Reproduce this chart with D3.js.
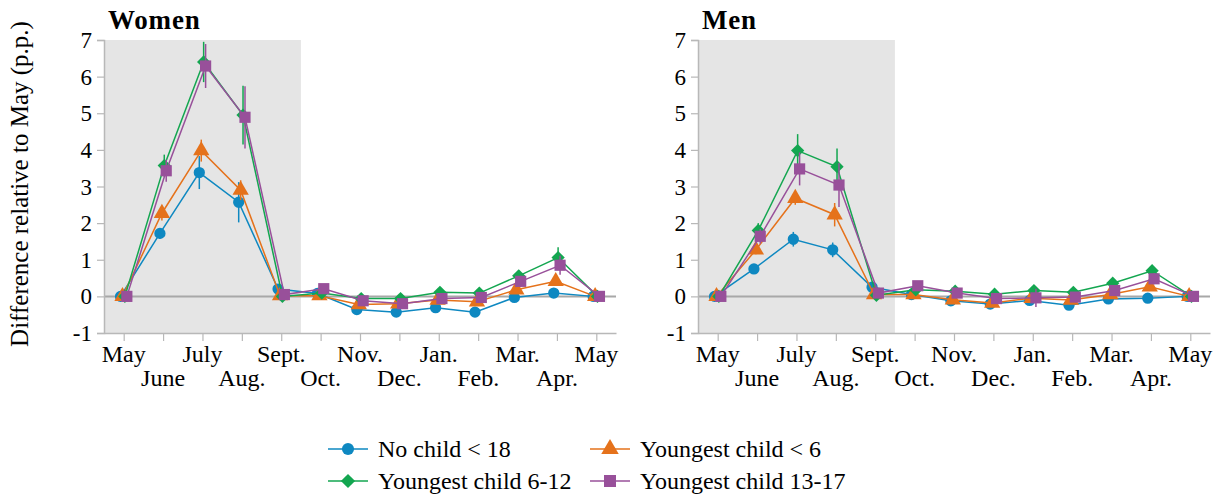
<!DOCTYPE html>
<html>
<head>
<meta charset="utf-8">
<script src="https://cdn.jsdelivr.net/npm/d3@7"></script>
</head>
<body style="margin:0">
<svg id="chart" width="1224" height="498" font-family="Liberation Serif"></svg>
<script>

// DATA

const months = ["May", "June", "July", "Aug.", "Sept.", "Oct.", "Nov.", "Dec.", "Jan.", "Feb.", "Mar.", "Apr.", "May"];
const yTicks = [-1, 0, 1, 2, 3, 4, 5, 6, 7];

const seriesNames = ["No child < 18", "Youngest child < 6", "Youngest child 6-12", "Youngest child 13-17"];

// Women
const womenNoChild = [0, 1.72, 3.38, 2.57, 0.2, 0.08, -0.36, -0.43, -0.31, -0.43, -0.03, 0.09, 0];
const womenUnder6 = [0, 2.27, 3.98, 2.9, 0.02, 0.02, -0.22, -0.2, -0.1, -0.15, 0.18, 0.41, 0];
const women6to12 = [0, 3.57, 6.4, 4.95, 0, 0.09, -0.06, -0.06, 0.11, 0.09, 0.56, 1.06, 0];
const women13to17 = [0, 3.43, 6.29, 4.89, 0.05, 0.21, -0.12, -0.2, -0.06, -0.03, 0.41, 0.85, 0];

const womenNoChildErr = [0, 0.15, 0.45, 0.55, 0.1, 0.08, 0.08, 0.08, 0.08, 0.08, 0.08, 0.08, 0];
const womenUnder6Err = [0, 0.2, 0.3, 0.27, 0.1, 0.08, 0.1, 0.1, 0.1, 0.1, 0.1, 0.1, 0];
const women6to12Err = [0, 0.3, 0.55, 0.8, 0.12, 0.1, 0.12, 0.12, 0.12, 0.12, 0.15, 0.28, 0];
const women13to17Err = [0, 0.3, 0.6, 0.85, 0.12, 0.1, 0.12, 0.12, 0.12, 0.12, 0.15, 0.26, 0];

// Men
const menNoChild = [0, 0.75, 1.56, 1.27, 0.25, 0.05, -0.12, -0.21, -0.11, -0.24, -0.07, -0.05, 0];
const menUnder6 = [0, 1.27, 2.68, 2.23, 0.05, 0.05, -0.09, -0.18, -0.05, -0.1, 0.05, 0.26, 0];
const men6to12 = [0, 1.8, 3.98, 3.54, 0.03, 0.18, 0.14, 0.06, 0.16, 0.11, 0.36, 0.7, 0];
const men13to17 = [0, 1.64, 3.48, 3.04, 0.09, 0.29, 0.09, -0.06, -0.04, -0.02, 0.16, 0.48, 0];

const menNoChildErr = [0, 0.08, 0.2, 0.2, 0.08, 0.06, 0.06, 0.06, 0.06, 0.06, 0.06, 0.06, 0];
const menUnder6Err = [0, 0.12, 0.18, 0.32, 0.1, 0.08, 0.08, 0.08, 0.08, 0.08, 0.08, 0.1, 0];
const men6to12Err = [0, 0.2, 0.45, 0.5, 0.15, 0.1, 0.12, 0.12, 0.12, 0.12, 0.12, 0.15, 0];
const men13to17Err = [0, 0.2, 0.45, 0.6, 0.12, 0.1, 0.12, 0.12, 0.25, 0.12, 0.12, 0.15, 0];


// STYLE

const colors = ["#0e88c1", "#e5721b", "#13a650", "#98509a"];
const shapes = ["circle", "triangle", "diamond", "square"];
const dodge = [-0.08, -0.03, 0.03, 0.08];

const svg = d3.select("#chart");

const y = d3.scaleLinear().domain([-1, 7]).range([333, 40]);


function markerPath(shape, big) {

    let k = big ? 1.15 : 1;

    if (shape === "circle") {
        return d3.symbol(d3.symbolCircle, 100 * k)();
    }
    if (shape === "triangle") {
        return d3.symbol(d3.symbolTriangle, 115 * k)();
    }
    if (shape === "diamond") {
        return d3.symbol(d3.symbolSquare, 88 * k)();
    }
    return d3.symbol(d3.symbolSquare, 125 * k)();

}


function addText(parent, x, y, size, content) {

    return parent.append("text")
        .attr("x", x)
        .attr("y", y)
        .attr("font-family", "Liberation Serif")
        .attr("font-size", size)
        .text(content);

}


function drawPanel(title, left, right, values, errors) {

    const x = d3.scaleLinear().domain([-0.5, 12.5]).range([left, right]);
    const g = svg.append("g");

    // Summer shading
    g.append("rect")
        .attr("x", x(-0.5))
        .attr("y", y(7))
        .attr("width", x(4.5) - x(-0.5))
        .attr("height", y(-1) - y(7))
        .attr("fill", "#e5e5e5");

    // Zero line
    g.append("line")
        .attr("x1", x(-0.5))
        .attr("x2", x(12.5))
        .attr("y1", y(0))
        .attr("y2", y(0))
        .attr("stroke", "#a8a8a8")
        .attr("stroke-width", 2);

    // Y axis (lines from d3, labels as plain text)
    const yAxis = g.append("g")
        .attr("transform", "translate(" + left + ",0)")
        .call(d3.axisLeft(y).tickValues(yTicks).tickSize(7).tickFormat(""));

    yAxis.select(".domain").attr("stroke", "#b8b8b8").attr("stroke-width", 1.5);
    yAxis.selectAll(".tick line").attr("stroke", "#b8b8b8").attr("stroke-width", 1.2);

    for (let t of yTicks) {
        addText(g, left - 12, y(t) + 8, 23, String(t)).attr("text-anchor", "end");
    }

    // X axis
    const xAxis = g.append("g")
        .attr("transform", "translate(0," + y(-1) + ")")
        .call(d3.axisBottom(x).tickValues(d3.range(months.length)).tickSize(8).tickSizeOuter(0).tickFormat(""));

    xAxis.select(".domain").attr("stroke", "#b8b8b8").attr("stroke-width", 1.5);
    xAxis.selectAll(".tick line").attr("stroke", "#b8b8b8").attr("stroke-width", 1.2);

    for (let i = 0; i < months.length; i++) {
        addText(g, x(i), i % 2 === 0 ? 362 : 386, 24, months[i]).attr("text-anchor", "middle");
    }

    // Title
    addText(g, left + 4, 29, 27, title)
        .attr("font-weight", "bold")
        .attr("letter-spacing", 0.8);

    // Series
    for (let s = 0; s < values.length; s++) {

        let points = values[s].map((v, i) => ({ i: i, v: v, e: errors[s][i] }));

        let line = d3.line()
            .x(d => x(d.i + dodge[s]))
            .y(d => y(d.v));

        let sg = g.append("g");

        sg.append("path")
            .datum(points)
            .attr("d", line)
            .attr("fill", "none")
            .attr("stroke", colors[s])
            .attr("stroke-width", 1.5);

        sg.selectAll(".err")
            .data(points.filter(d => d.e > 0))
            .enter()
            .append("line")
            .attr("x1", d => x(d.i + dodge[s]))
            .attr("x2", d => x(d.i + dodge[s]))
            .attr("y1", d => y(d.v - d.e))
            .attr("y2", d => y(d.v + d.e))
            .attr("stroke", colors[s])
            .attr("stroke-width", 1.5);

        sg.selectAll(".mark")
            .data(points)
            .enter()
            .append("path")
            .attr("d", markerPath(shapes[s], false))
            .attr("transform", d => "translate(" + x(d.i + dodge[s]) + "," + y(d.v) + ")" + (shapes[s] === "diamond" ? " rotate(45)" : ""))
            .attr("fill", colors[s]);

    }

}


drawPanel("Women", 104, 616,
    [womenNoChild, womenUnder6, women6to12, women13to17],
    [womenNoChildErr, womenUnder6Err, women6to12Err, women13to17Err]);

drawPanel("Men", 698, 1210,
    [menNoChild, menUnder6, men6to12, men13to17],
    [menNoChildErr, menUnder6Err, men6to12Err, men13to17Err]);


// Y label

addText(svg, 0, 0, 25, "Difference relative to May (p.p.)")
    .attr("transform", "translate(28,184) rotate(-90)")
    .attr("text-anchor", "middle");


// LEGEND

const legendX = [328, 590];
const legendY = [449, 481];

for (let s = 0; s < seriesNames.length; s++) {

    let lx = legendX[s % 2];
    let ly = legendY[Math.floor(s / 2)];

    svg.append("line")
        .attr("x1", lx)
        .attr("x2", lx + 40)
        .attr("y1", ly)
        .attr("y2", ly)
        .attr("stroke", colors[s])
        .attr("stroke-width", 1.5);

    svg.append("path")
        .attr("d", markerPath(shapes[s], true))
        .attr("transform", "translate(" + (lx + 20) + "," + ly + ")" + (shapes[s] === "diamond" ? " rotate(45)" : ""))
        .attr("fill", colors[s]);

    addText(svg, lx + 50, ly + 8, 24, seriesNames[s]);

}

</script>
</body>
</html>
